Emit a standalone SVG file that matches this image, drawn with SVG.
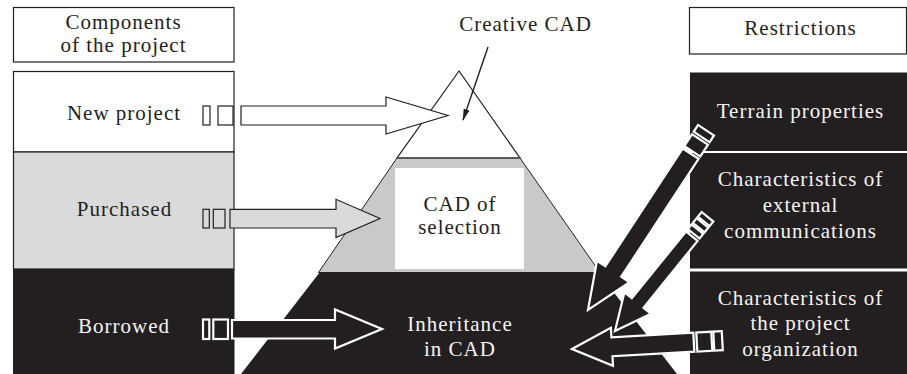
<svg xmlns="http://www.w3.org/2000/svg" width="907" height="374" viewBox="0 0 907 374">
<defs>
<style>
.t{font-family:"Liberation Serif","Times New Roman",serif;font-size:21px;letter-spacing:1px;text-anchor:middle;fill:#231f20}
.w{fill:#f4f4f4}
.box{fill:#fff;stroke:#231f20;stroke-width:1.2}
.la{stroke:#231f20;stroke-width:1.2;stroke-linejoin:miter}
.ba{fill:#231f20;stroke:#fff;stroke-width:2.2;stroke-linejoin:miter}
</style>
<marker id="ah" viewBox="0 0 12 6" refX="11" refY="3" markerWidth="12" markerHeight="6" markerUnits="userSpaceOnUse" orient="auto">
<path d="M0,0 L12,3 L0,6 Z" fill="#231f20"/>
</marker>
</defs>
<rect width="907" height="374" fill="#fff"/>

<g id="hdr-components">
<rect class="box" x="13.5" y="7.5" width="220.5" height="54.5"/>
<text class="t" x="123.5" y="29">Components</text>
<text class="t" x="123.5" y="52">of the project</text>
</g>

<g id="new-project">
<rect x="13.5" y="71.5" width="220.5" height="80.5" fill="#fff" stroke="#231f20" stroke-width="1.2"/>
<text class="t" x="124" y="120">New project</text>
</g>
<g id="purchased">
<rect x="13.5" y="152" width="220.5" height="117" fill="#d9dadc" stroke="#231f20" stroke-width="1.2"/>
<text class="t" x="124.5" y="216">Purchased</text>
</g>
<g id="borrowed">
<rect x="13" y="269" width="221.5" height="105" fill="#231f20"/>
<text class="t w" x="124" y="333">Borrowed</text>
</g>

<g id="pyramid">
<polygon points="397,158 520,158 600,272.5 318.5,272.5" fill="#c8c9cb" stroke="#231f20" stroke-width="1"/>
<polygon points="459,71 397,158 520,158" fill="#fff" stroke="#231f20" stroke-width="1.2"/>
<line x1="397" y1="158" x2="520" y2="158" stroke="#58595b" stroke-width="2"/>
<polygon points="320,272 598,272 677,374 241,374" fill="#231f20"/>
</g>
<g id="creative-cad">
<text class="t" x="525.5" y="31">Creative CAD</text>
</g>
<g id="cad-selection">
<rect x="395" y="168" width="129" height="101" fill="#fff"/>
<text class="t" x="460" y="211">CAD of</text>
<text class="t" x="460" y="234">selection</text>
</g>
<g id="inheritance">
<text class="t w" x="460" y="331">Inheritance</text>
<text class="t w" x="460" y="356">in CAD</text>
</g>

<g id="hdr-restrictions">
<rect class="box" x="689.5" y="7.5" width="217" height="46.5"/>
<text class="t" x="800.5" y="35">Restrictions</text>
</g>
<g id="terrain">
<rect x="690" y="72.5" width="217" height="78.5" fill="#231f20"/>
<text class="t w" x="800.5" y="118">Terrain properties</text>
</g>
<g id="external">
<rect x="690" y="153" width="217" height="115.5" fill="#231f20"/>
<text class="t w" x="800.5" y="186">Characteristics of</text>
<text class="t w" x="800.5" y="212">external</text>
<text class="t w" x="800.5" y="238">communications</text>
</g>
<g id="organization">
<rect x="690" y="271.5" width="217" height="102.5" fill="#231f20"/>
<text class="t w" x="800.5" y="305">Characteristics of</text>
<text class="t w" x="800.5" y="330">the project</text>
<text class="t w" x="800.5" y="356">organization</text>
</g>

<g id="connectors">
<line x1="488" y1="47" x2="463" y2="120" stroke="#231f20" stroke-width="1.4" marker-end="url(#ah)"/>

<g fill="#fff" class="la">
<rect x="203" y="106" width="7" height="19"/>
<rect x="218" y="106" width="15" height="19"/>
<polygon points="241,106 386,106 386,97 448,115.5 386,134 386,125 241,125"/>
</g>
<g fill="#d9dadc" class="la">
<rect x="203" y="209.3" width="6.3" height="18.7"/>
<rect x="213.3" y="209.3" width="11.7" height="18.7"/>
<polygon points="230,209.3 336,209.3 336,199.3 380,218.5 336,237.5 336,228 230,228"/>
</g>
<g class="ba">
<rect x="203" y="319.5" width="6.3" height="19.5"/>
<rect x="213.3" y="319.5" width="14.7" height="19.5"/>
<polygon points="232,320 335,320 335,309.5 382,329 335,348.5 335,338.5 232,338.5"/>
</g>

<g class="ba" transform="translate(588,310) rotate(-56.7)">
<polygon points="0,0 46,-19.5 46,-9.5 187,-9.5 187,9.5 46,9.5 46,19.5"/>
<rect x="190" y="-9.5" width="14" height="19"/>
<rect x="207" y="-9.5" width="8" height="19"/>
</g>
<g class="ba" transform="translate(615,331) rotate(-51)">
<polygon points="0,0 36,-17 36,-7.5 122,-7.5 122,7.5 36,7.5 36,17"/>
<rect x="125" y="-7.5" width="6" height="15"/>
<rect x="133" y="-7.5" width="6" height="15"/>
<rect x="141" y="-7.5" width="6" height="15"/>
</g>
<g class="ba" transform="translate(572,349) rotate(-3.18)">
<polygon points="0,0 40,-19 40,-9.5 122,-9.5 122,9.5 40,9.5 40,19"/>
<rect x="125" y="-9.5" width="15" height="19"/>
<rect x="142" y="-9.5" width="8.5" height="19"/>
</g>
</g>
</svg>
